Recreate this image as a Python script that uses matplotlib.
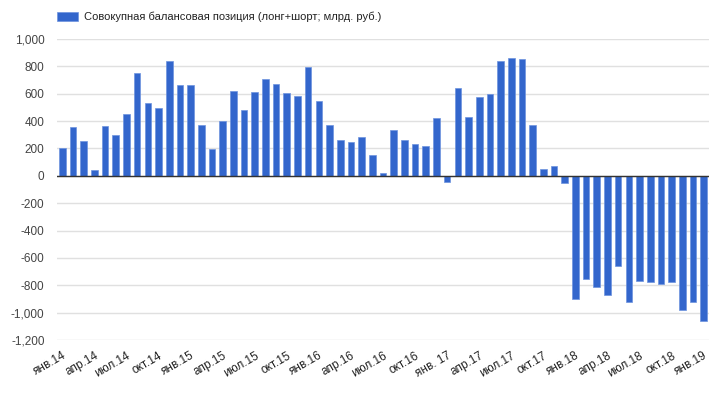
import numpy as np
import matplotlib
matplotlib.use('Agg')
import matplotlib.pyplot as plt
from matplotlib.ticker import FuncFormatter

# monthly values, янв.14 .. янв.19
values = [200, 358, 254, 46, 363, 298, 454, 749, 529, 498, 839, 663,
          663, 373, 195, 400, 622, 483, 615, 710, 671, 605, 585, 798,
          549, 368, 259, 244, 285, 154, 24, 332, 261, 232, 215, 424,
          -46, 639, 429, 578, 598, 839, 863, 854, 368, 51, 73, -51,
          -900, -751, -815, -873, -659, -924, -766, -778, -788, -773, -978, -924,
          -1063]
tick_labels = ['янв.14', 'апр.14', 'июл.14', 'окт.14',
               'янв.15', 'апр.15', 'июл.15', 'окт.15',
               'янв.16', 'апр.16', 'июл.16', 'окт.16',
               'янв. 17', 'апр.17', 'июл.17', 'окт.17',
               'янв.18', 'апр.18', 'июл.18', 'окт.18',
               'янв.19']
series_name = 'Совокупная балансовая позиция (лонг+шорт; млрд. руб.)'

plt.rcParams['font.family'] = ['Liberation Sans', 'DejaVu Sans']

fig = plt.figure(figsize=(7.28, 3.98), dpi=100)
ax = fig.add_axes([57 / 728, 1 - 340 / 398, 652 / 728, 301 / 398])

x = np.arange(len(values))
ax.bar(x, values, width=0.62, color='#3366cc', edgecolor='#6d93df', linewidth=0.5,
       label=series_name, zorder=3)

ax.set_xlim(-0.5, len(values) - 0.5)
ax.set_ylim(-1200, 1000)
ax.set_yticks(np.arange(-1200, 1001, 200))
ax.yaxis.set_major_formatter(FuncFormatter(lambda v, p: f'{int(v):,}'))
ax.grid(axis='y', color='#e0e0e0', linewidth=1, zorder=0)
ax.axhline(0, color='#333333', linewidth=1, zorder=4)

ax.set_xticks(x[::3])
ax.set_xticklabels(tick_labels, rotation=30, ha='right', rotation_mode='anchor')
ax.tick_params(axis='x', length=0, pad=7, labelsize=8.5, labelcolor='#222222')
ax.tick_params(axis='y', length=0, pad=9, labelsize=8.5, labelcolor='#444444')
for s in ax.spines.values():
    s.set_visible(False)

leg = fig.legend(loc='upper left', bbox_to_anchor=(47 / 728, 1 - 2 / 398), frameon=False,
                 fontsize=8, handlelength=1.9, handleheight=0.9, handletextpad=0.5)
for t in leg.get_texts():
    t.set_color('#222222')

fig.savefig('out.png', dpi=100)
